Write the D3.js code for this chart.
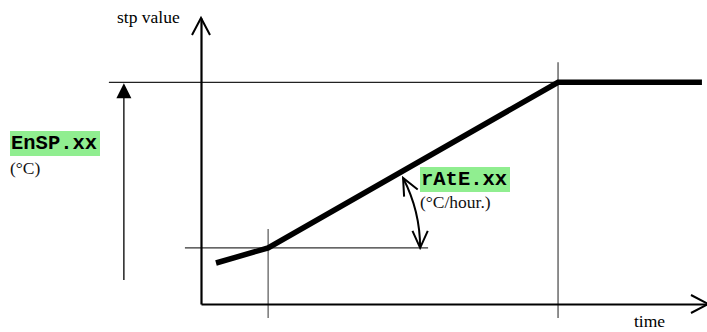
<!DOCTYPE html>
<html>
<head>
<meta charset="utf-8">
<script src="https://cdn.jsdelivr.net/npm/d3@7"></script>
<style>
  html, body { margin: 0; padding: 0; background: #fff; }
  svg { display: block; }
  .serif { font-family: "Liberation Serif", "Times New Roman", Times, "DejaVu Serif", serif; }
  .mono { font-family: "Liberation Mono", "Courier New", Courier, "DejaVu Sans Mono", monospace; font-weight: bold; }
</style>
</head>
<body>
<svg id="chart" width="707" height="332"></svg>
<script>
// ---- data (time units / setpoint units) ----
const profileTime     = [0.42, 1.88, 10, 14.03];
const profileSetpoint = [1.85, 2.53, 10, 10];

const rampStartTime = 1.88;   // start of ramp
const rampEndTime   = 10;     // setpoint reached
const startSetpoint = 2.53;
const endSetpoint   = 10;     // EnSP.xx

const axisLabels  = ["stp value", "time"];
const paramLabels = ["EnSP.xx", "rAtE.xx"];
const unitLabels  = ["(°C)", "(°C/hour.)"];

// ---- scales ----
const svg = d3.select("#chart");
const x = d3.scaleLinear().domain([0, 14.2]).range([201, 708]);
const y = d3.scaleLinear().domain([0, 12.9]).range([304, 18]);

// ---- guide lines ----
const guides = [
  {x1: -2.58, y1: endSetpoint, x2: rampEndTime, y2: endSetpoint, c: "#222"},
  {x1: -0.45, y1: startSetpoint, x2: 6.36, y2: startSetpoint, c: "#333"},
  {x1: rampStartTime, y1: 3.38, x2: rampStartTime, y2: -0.63, c: "#555"},
  {x1: rampEndTime, y1: 10.9, x2: rampEndTime, y2: -0.63, c: "#444"}
];
svg.append("g").selectAll("line").data(guides).join("line")
  .attr("x1", d => x(d.x1)).attr("y1", d => y(d.y1))
  .attr("x2", d => x(d.x2)).attr("y2", d => y(d.y2))
  .attr("stroke", d => d.c).attr("stroke-width", 1.2);

// ---- axes ----
const xAxis = svg.append("g").attr("transform", `translate(0,${y(0)})`)
  .call(d3.axisBottom(x).tickValues([]).tickSizeOuter(0));
xAxis.select(".domain").attr("stroke", "#000").attr("stroke-width", 2.2);
const yAxis = svg.append("g").attr("transform", `translate(${x(0)},0)`)
  .call(d3.axisLeft(y).tickValues([]).tickSizeOuter(0));
yAxis.select(".domain").attr("stroke", "#000").attr("stroke-width", 2.2);

// open arrow heads on axes
svg.append("path")
  .attr("d", `M${x(0)-9},${y(12.9)+17}L${x(0)},${y(12.9)}L${x(0)+9},${y(12.9)+17}`)
  .attr("fill", "none").attr("stroke", "#000").attr("stroke-width", 2);
svg.append("path")
  .attr("d", `M${x(14.2)-17},${y(0)-9}L${x(14.2)},${y(0)}L${x(14.2)-17},${y(0)+9}`)
  .attr("fill", "none").attr("stroke", "#000").attr("stroke-width", 2);

// ---- EnSP arrow ----
const ex = x(-2.16);
svg.append("line")
  .attr("x1", ex).attr("y1", y(1.08)).attr("x2", ex).attr("y2", y(endSetpoint) + 14)
  .attr("stroke", "#000").attr("stroke-width", 1.3);
svg.append("path")
  .attr("d", `M${ex},${y(endSetpoint)+1}L${ex-7.5},${y(endSetpoint)+16}L${ex+7.5},${y(endSetpoint)+16}Z`)
  .attr("fill", "#000");

// ---- setpoint profile ----
const line = d3.line().x(d => x(d[0])).y(d => y(d[1]));
svg.append("path")
  .datum(profileTime.map((t, i) => [t, profileSetpoint[i]]))
  .attr("d", line)
  .attr("fill", "none").attr("stroke", "#000").attr("stroke-width", 5.5)
  .attr("stroke-linejoin", "miter");

// ---- rate arc (double arrow) ----
const cx = x(rampStartTime), cy = y(startSetpoint), r = 152;
const a0 = -27.4 * Math.PI / 180, a1 = 0;
const arcPath = d3.path();
arcPath.arc(cx, cy, r, a0, a1);
svg.append("path").attr("d", arcPath.toString())
  .attr("fill", "none").attr("stroke", "#000").attr("stroke-width", 2);
function vhead(angle, dir) {
  const px = cx + r * Math.cos(angle), py = cy + r * Math.sin(angle);
  const tx = -Math.sin(angle) * dir, ty = Math.cos(angle) * dir;
  const L = 17, h = 0.45;
  const bx = px - tx * L, by = py - ty * L;
  const nx = -ty, ny = tx;
  return `M${bx + nx*L*h},${by + ny*L*h}L${px},${py}L${bx - nx*L*h},${by - ny*L*h}`;
}
svg.append("path").attr("d", vhead(a1, 1) + vhead(a0, -1))
  .attr("fill", "none").attr("stroke", "#000").attr("stroke-width", 2);

// ---- labels ----
svg.append("text").attr("class", "serif").attr("x", 117).attr("y", 23)
  .attr("font-size", 17.5).text(axisLabels[0]);
svg.append("text").attr("class", "serif").attr("x", 634).attr("y", 327)
  .attr("font-size", 17.5).text(axisLabels[1]);

const boxes = [
  {x: 10, y: 131, label: paramLabels[0], unit: unitLabels[0], uy: 174},
  {x: 420, y: 167, label: paramLabels[1], unit: unitLabels[1], uy: 208}
];
boxes.forEach(b => {
  svg.append("rect").attr("x", b.x).attr("y", b.y).attr("width", 90).attr("height", 25)
    .attr("fill", "#90EE90");
  svg.append("text").attr("class", "mono").attr("x", b.x + 1).attr("y", b.y + 18)
    .attr("font-size", 20.5).attr("fill", "#000").text(b.label);
  svg.append("text").attr("class", "serif").attr("x", b.x).attr("y", b.uy)
    .attr("font-size", 17.5).attr("fill", "#111").text(b.unit);
});
</script>
</body>
</html>
